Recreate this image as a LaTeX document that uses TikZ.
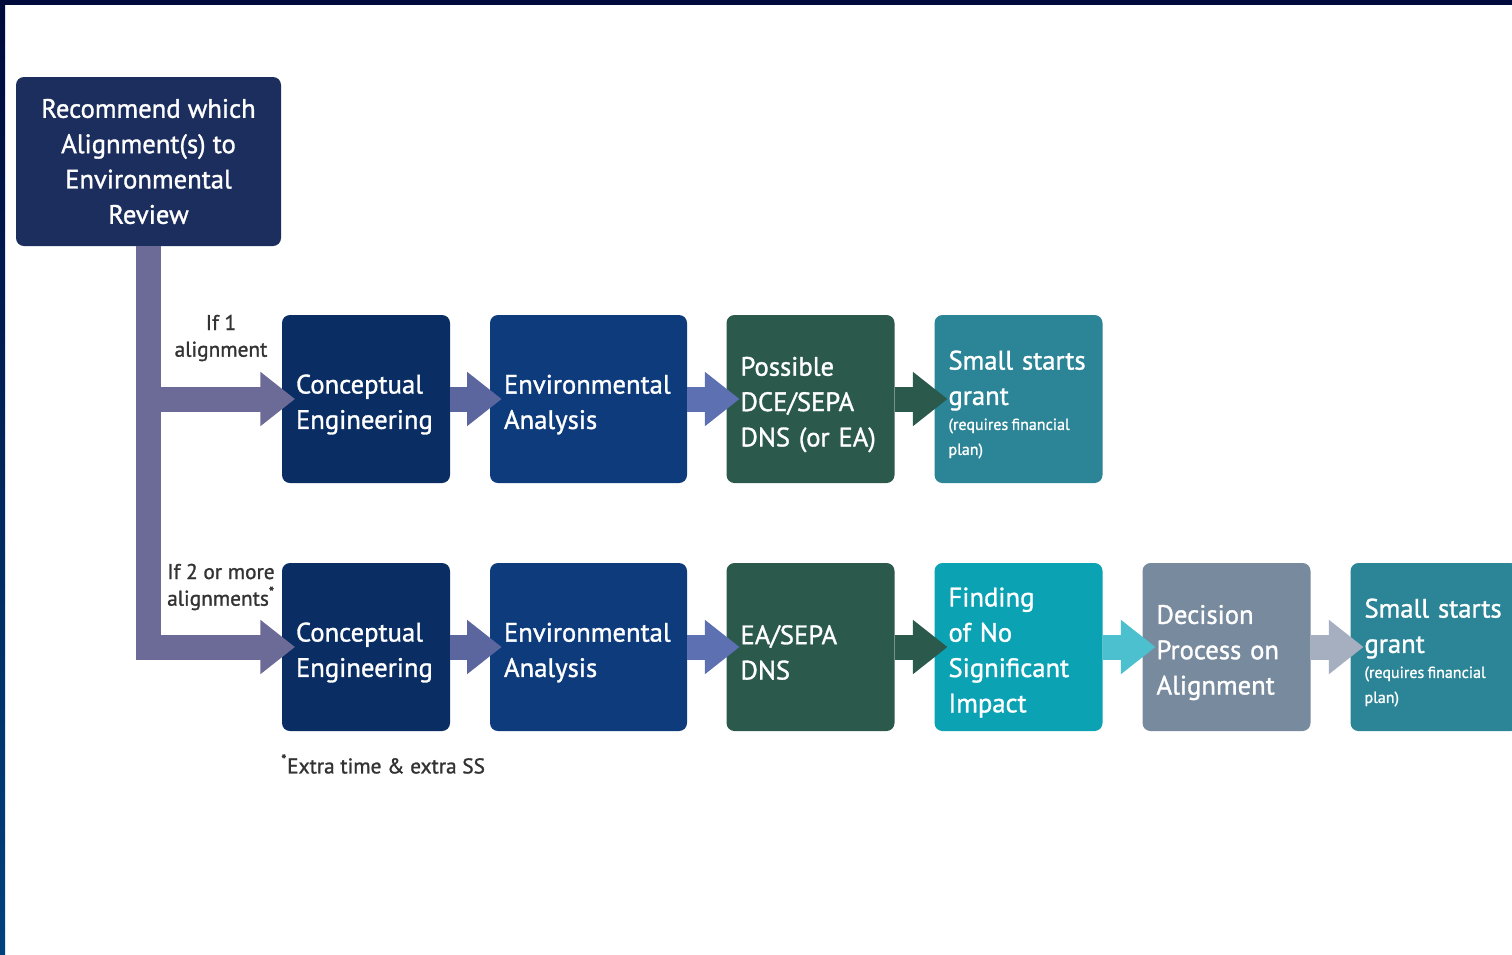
\documentclass[tikz,border=0pt]{standalone}
\usepackage{fontspec}
\setmainfont{PT Sans}
\newfontfamily\stagefont{PT Sans}[FakeBold=1.2]
\usetikzlibrary{arrows.meta}

\definecolor{frameNavy}{HTML}{000A3C}
\definecolor{frameBlue}{HTML}{00427F}
\definecolor{topNavy}{HTML}{1C2E5E}
\definecolor{ceNavy}{HTML}{0A2D63}
\definecolor{eaBlue}{HTML}{0D3B7B}
\definecolor{dnsGreen}{HTML}{2B5A4C}
\definecolor{grantTeal}{HTML}{2B8596}
\definecolor{fonsiCyan}{HTML}{0BA2B4}
\definecolor{decGrey}{HTML}{778A9E}
\definecolor{trunkPurple}{HTML}{6C6B98}
\definecolor{ceArrow}{HTML}{5B669E}
\definecolor{eaArrow}{HTML}{5D70B2}
\definecolor{fonsiArrow}{HTML}{4CC0CF}
\definecolor{decArrow}{HTML}{A6AFC0}
\definecolor{labelGrey}{HTML}{333333}

\tikzset{
	stage/.style={rounded corners=6pt, minimum height=126pt, inner xsep=10.5pt, align=left, text=white, font=\stagefont\fontsize{20}{26.5}\selectfont},
	narrowstage/.style={stage, text width=105pt, execute at begin node={\rule{0pt}{22.5pt}}},
	widestage/.style={stage, text width=126.75pt, execute at begin node={\rule{0pt}{22.5pt}}},
	flow/.style={draw=#1, line width=18.75pt, -{Triangle[length=26pt,width=39pt,fill=#1]}},
	branchlabel/.style={align=center, text=labelGrey, font=\stagefont\fontsize{16}{20}\selectfont},
}
\newcommand{\smallnote}[1]{{\fontsize{12}{18.75}\selectfont #1\par}}

\begin{document}
\begin{tikzpicture}[x=0.75pt,y=0.75pt,yscale=-1,xscale=1]
	\clip (0,0) rectangle (1512,954);
	\fill [white] (0,0) rectangle (1512,954);

	% frame
	\fill [frameNavy] (0,0) rectangle (1512,5);
	\shade [top color=frameNavy, bottom color=frameBlue] (0,0) rectangle (5,954);

	% Top box
	\node [stage, fill=topNavy, minimum width=198.75pt, minimum height=126.75pt, align=center] (recommend) at (148.5,161.5) {Recommend which\\Alignment(s) to\\Environmental\\Review};

	% Row 1
	\node [narrowstage, fill=ceNavy] (ceOne) at (366,399) {Conceptual\\Engineering};
	\node [widestage, fill=eaBlue] (eaOne) at (588.5,399) {Environmental\\Analysis};
	\node [narrowstage, fill=dnsGreen] (dnsOne) at (810.5,399) {Possible\\DCE/SEPA\\DNS (or EA)};
	\node [narrowstage, fill=grantTeal] (grantOne) at (1018.5,399) {Small starts\\grant\par\smallnote{(requires\hspace{2.5pt}financial\\plan)}};

	% Row 2
	\node [narrowstage, fill=ceNavy] (ceTwo) at (366,647) {Conceptual\\Engineering};
	\node [widestage, fill=eaBlue] (eaTwo) at (588.5,647) {Environmental\\Analysis};
	\node [narrowstage, fill=dnsGreen] (dnsTwo) at (810.5,647) {EA/SEPA\\DNS};
	\node [narrowstage, fill=fonsiCyan] (fonsi) at (1018.5,647) {Finding\\of No\\Significant\\Impact};
	\node [narrowstage, fill=decGrey] (decision) at (1226.5,647) {Decision\\Process on\\Alignment};
	\node [narrowstage, fill=grantTeal] (grantTwo) at (1434.5,647) {Small starts\\grant\par\smallnote{(requires\hspace{2.5pt}financial\\plan)}};

	% trunk and branches
	\draw [flow=trunkPurple] (recommend.south) |- ([xshift=10pt]ceTwo.west);
	\draw [flow=trunkPurple] (recommend.south |- ceOne.west) -- ([xshift=10pt]ceOne.west);

	% stage arrows
	\draw [flow=ceArrow] (ceOne.east) -- ([xshift=9pt]eaOne.west);
	\draw [flow=eaArrow] (eaOne.east) -- ([xshift=10pt]dnsOne.west);
	\draw [flow=dnsGreen] (dnsOne.east) -- ([xshift=10pt]grantOne.west);

	\draw [flow=ceArrow] (ceTwo.east) -- ([xshift=9pt]eaTwo.west);
	\draw [flow=eaArrow] (eaTwo.east) -- ([xshift=10pt]dnsTwo.west);
	\draw [flow=dnsGreen] (dnsTwo.east) -- ([xshift=10pt]fonsi.west);
	\draw [flow=fonsiArrow] (fonsi.east) -- ([xshift=10pt]decision.west);
	\draw [flow=decArrow] (decision.east) -- ([xshift=10pt]grantTwo.west);

	% Text Node
	\node [branchlabel] (ifOne) at (221,338) {If 1\\alignment};
	% Text Node
	\node [branchlabel] (ifTwo) at (221,587) {If 2 or more\\alignments\textsuperscript{*}};
	% Text Node
	\node [anchor=west, text=labelGrey, font=\stagefont\fontsize{16}{18}\selectfont, inner sep=0pt] (note) at (281,764) {\textsuperscript{*}Extra time \& extra SS};

\end{tikzpicture}
\end{document}
